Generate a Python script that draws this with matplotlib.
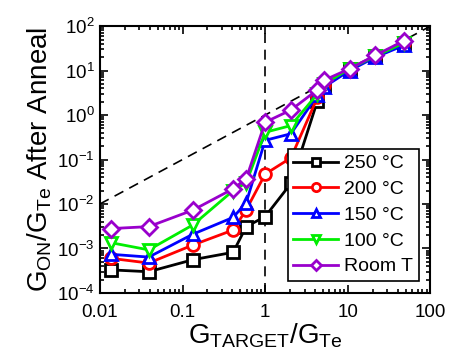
import matplotlib
matplotlib.use("Agg")
from matplotlib import pyplot as plt
from matplotlib import ticker
import numpy as np

plt.rcParams['font.family'] = ['Liberation Sans', 'DejaVu Sans']
plt.rcParams['mathtext.fontset'] = 'custom'
plt.rcParams['mathtext.rm'] = 'Liberation Sans'
plt.rcParams['mathtext.it'] = 'Liberation Sans:italic'
plt.rcParams['mathtext.bf'] = 'Liberation Sans:bold'

g_target = [0.0136, 0.039, 0.134, 0.41, 0.59, 1.0, 2.05, 4.3, 5.2, 10.5, 21.5, 48]

g_250 = [3.3e-4, 3.0e-4, 5.6e-4, 8.2e-4, 3.1e-3, 5.2e-3, 0.029, 2.1, 4.5, 11, 21, 42]
g_200 = [6.0e-4, 4.7e-4, 1.2e-3, 2.6e-3, 7.4e-3, 0.047, 0.109, 2.5, 4.8, 11, 21, 42]
g_150 = [7.4e-4, 6.4e-4, 2.1e-3, 5.0e-3, 0.0107, 0.27, 0.38, 2.8, 4.3, 10, 20, 37]
g_100 = [1.35e-3, 9.3e-4, 3.4e-3, 0.02, 0.03, 0.41, 0.58, 3.0, 5.0, 11, 21, 42]
g_room = [2.8e-3, 3.1e-3, 7.3e-3, 0.022, 0.037, 0.69, 1.3, 3.7, 6.1, 11, 22, 47]

series = [
    ("250 °C", g_250, "black", "s"),
    ("200 °C", g_200, "red", "o"),
    ("150 °C", g_150, "blue", "^"),
    ("100 °C", g_100, "#00ee00", "v"),
    ("Room T", g_room, "#9900cc", "D"),
]

fig = plt.figure(figsize=(4.54, 3.63), dpi=100)
ax = fig.add_axes([0.22, 0.193, 0.728, 0.735])

# guide lines: y = x and x = 1
ref = [0.01, 100]
ax.plot(ref, ref, 'k--', lw=1.2, dashes=(6, 4))
ax.axvline(1, color='k', ls='--', lw=1.2, dashes=(6, 4))

for label, vals, col, mk in series:
    ms = 8 if mk == "D" else 8.5
    ax.plot(g_target, vals, color=col, marker=mk, mfc='white', mec=col,
            mew=2, ms=ms, lw=2, label=label)

ax.set_xscale('log')
ax.set_yscale('log')
ax.set_xlim(0.01, 100)
ax.set_ylim(1e-4, 1e2)
ax.xaxis.set_major_formatter(ticker.FuncFormatter(lambda v, p: f"{v:g}"))
ax.yaxis.set_major_locator(ticker.LogLocator(base=10, numticks=10))
ax.yaxis.set_minor_locator(ticker.LogLocator(base=10, subs=np.arange(2, 10), numticks=20))
ax.yaxis.set_minor_formatter(ticker.NullFormatter())
ax.tick_params(which='both', direction='in', top=True, right=True, labelsize=13.5, width=1.2)
ax.tick_params(which='major', length=6, pad=4)
ax.tick_params(axis='x', which='major', pad=8)
ax.tick_params(which='minor', length=3)
for sp in ax.spines.values():
    sp.set_linewidth(1.5)

ax.set_xlabel(r'$\mathregular{G_{TARGET}/G_{Te}}$', fontsize=20, labelpad=0)
ax.set_ylabel(r'$\mathregular{G_{ON}/G_{Te}}$ After Anneal', fontsize=20, labelpad=2)

leg = ax.legend(loc='lower right', fontsize=14, fancybox=False, framealpha=1,
                edgecolor='black', handlelength=2.3, handletextpad=0.3,
                labelspacing=0.42, borderpad=0.3, borderaxespad=0.6,
                markerscale=0.7)
leg.get_frame().set_linewidth(1.2)

fig.savefig("out.png", dpi=100)
